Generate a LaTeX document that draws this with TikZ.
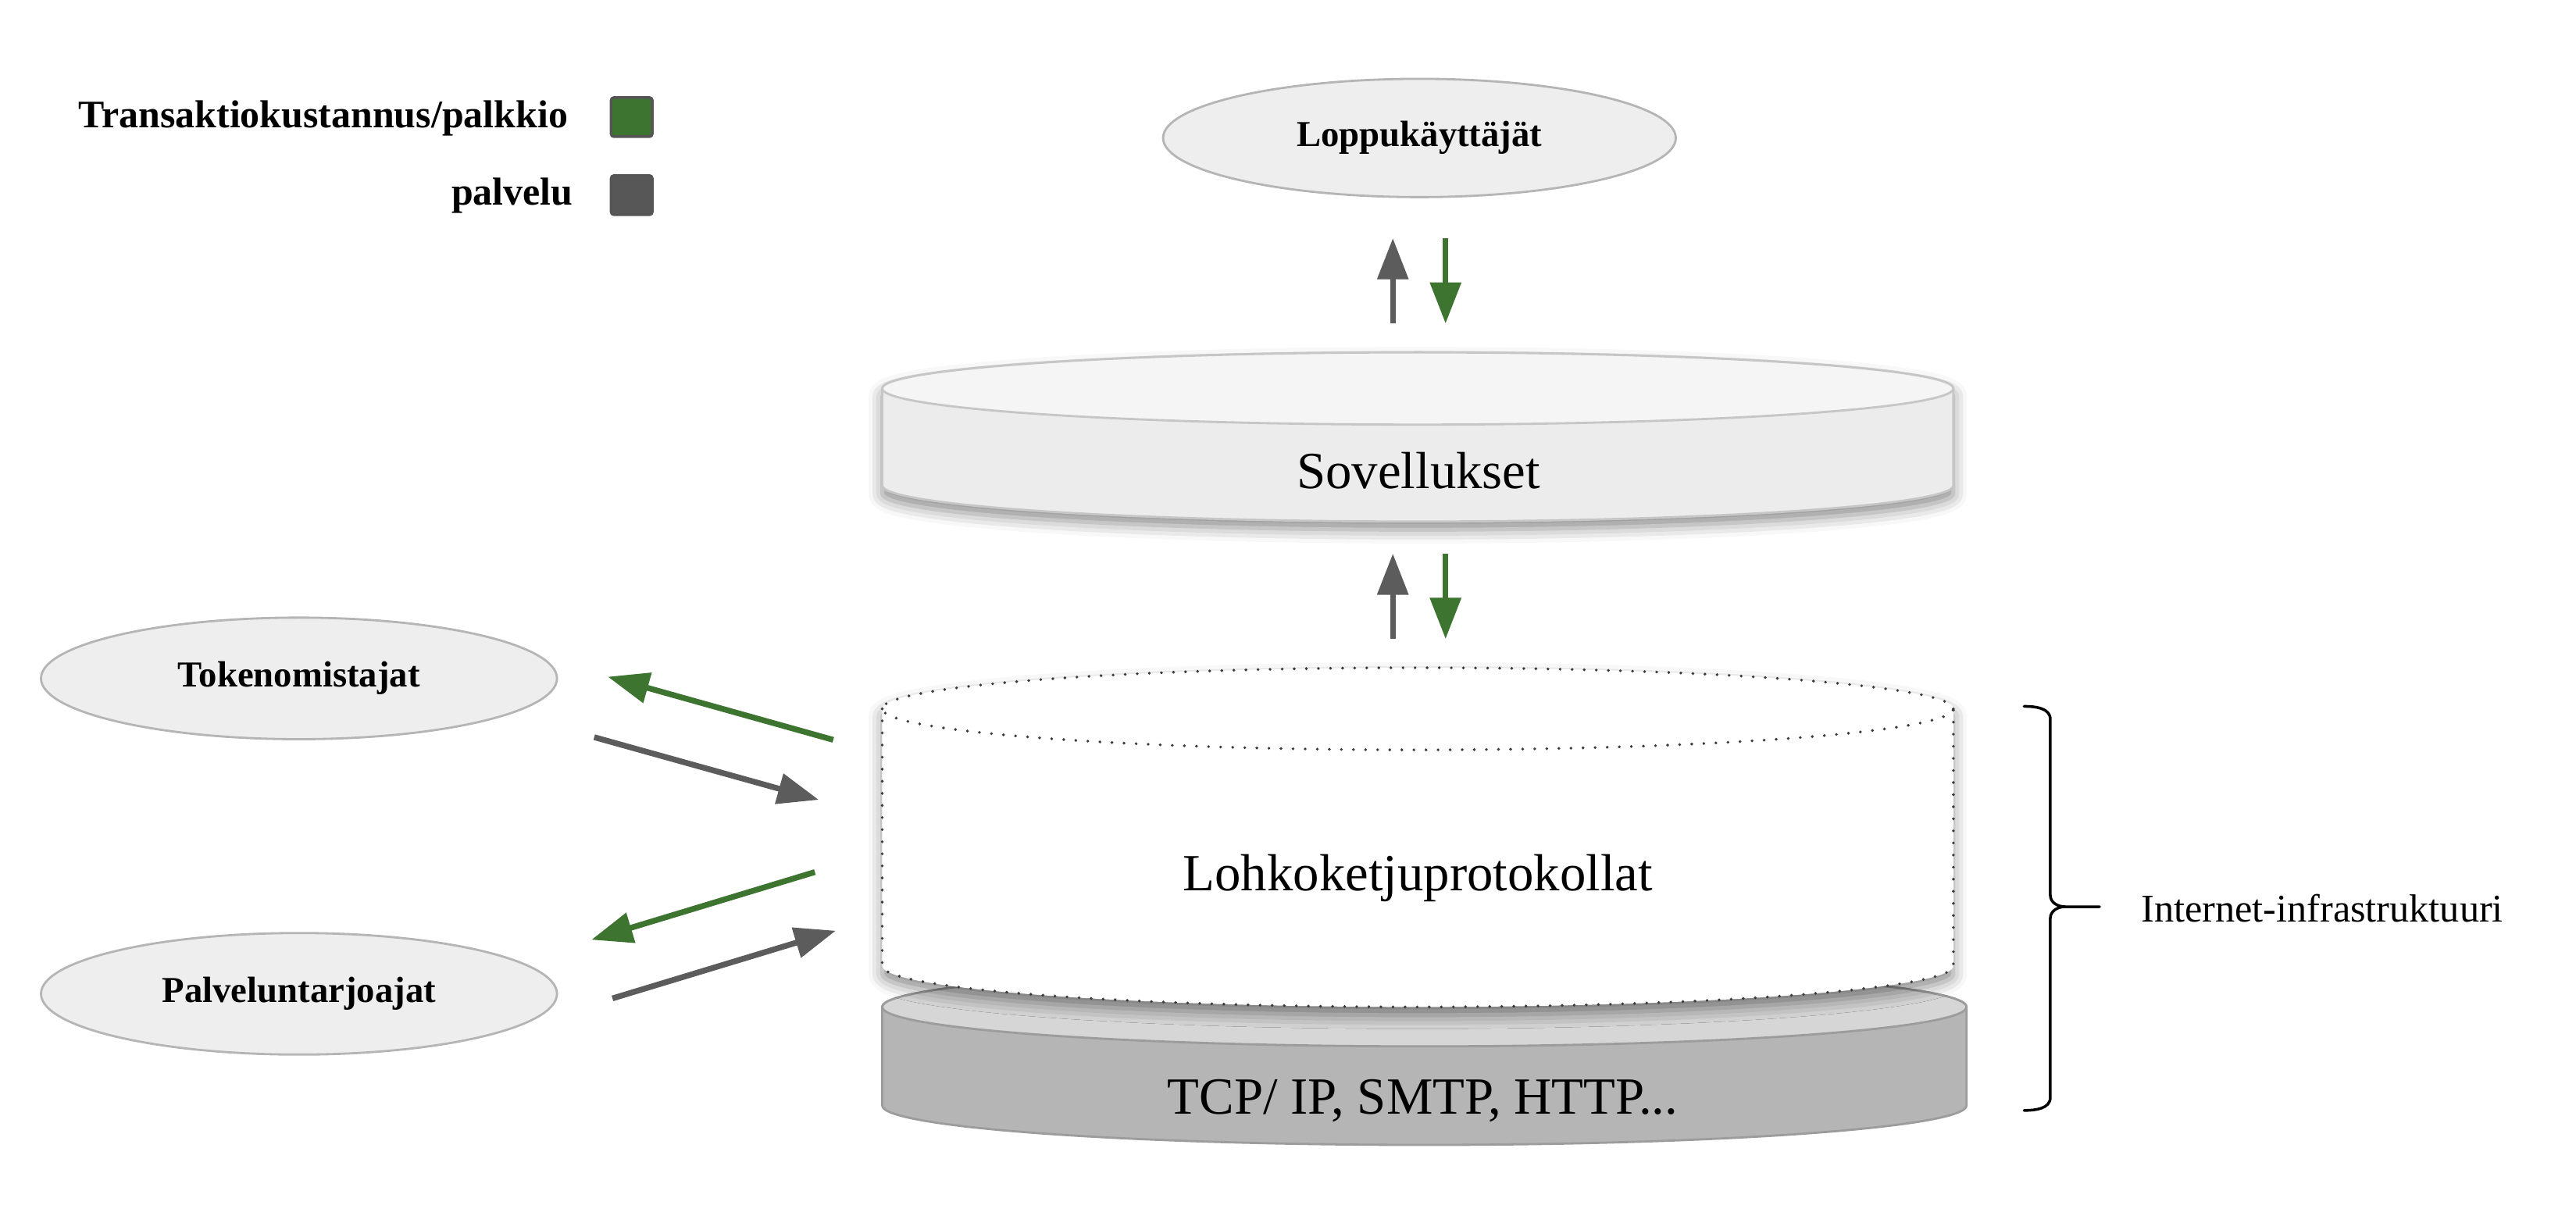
\documentclass[tikz,border=0pt]{standalone}
\usepackage{fontspec}
\setmainfont{Liberation Serif}
\usetikzlibrary{arrows.meta,shapes.geometric,shadows.blur}
\definecolor{grn}{HTML}{3C7430}
\definecolor{gry}{HTML}{5C5C5C}
\definecolor{sqedge}{HTML}{555555}
\definecolor{ellfill}{HTML}{EEEEEE}
\definecolor{elledge}{HTML}{B5B5B5}
\definecolor{apptop}{HTML}{F5F5F5}
\definecolor{appside}{HTML}{ECECEC}
\definecolor{appedge}{HTML}{C6C6C6}
\definecolor{tcptop}{HTML}{D6D6D6}
\definecolor{tcpside}{HTML}{B5B5B5}
\definecolor{tcpedge}{HTML}{9C9C9C}
\definecolor{dotedge}{HTML}{3A3A3A}
\tikzset{
  legtext/.style={anchor=base east, inner sep=0pt, font=\fontsize{14.2}{17}\selectfont\bfseries},
  legsq/.style={rectangle, minimum width=0.526cm, minimum height=0.5cm, inner sep=0pt, draw=sqedge, line width=1pt, rounded corners=1pt},
  actor/.style={ellipse, fill=ellfill, draw=elledge, line width=0.8pt, inner sep=0pt, font=\fontsize{13.3}{16}\selectfont\bfseries},
  layertext/.style={anchor=base, inner sep=0pt, font=\fontsize{19}{23}\selectfont},
  garrow/.style={draw=grn, line width=2.1pt, -{Triangle[length=15pt,width=11pt]}},
  sarrow/.style={draw=gry, line width=2.1pt, -{Triangle[length=15pt,width=11pt]}},
  dotline/.style={draw=dotedge, line width=1.1pt, line cap=round, dash pattern=on 0pt off 4.4pt},
  softshadow/.style={blur shadow={shadow xshift=0pt, shadow yshift=-3pt, shadow blur radius=5pt, shadow opacity=45}}
}
\begin{document}
\begin{tikzpicture}[x=0.021033cm, y=0.021033cm]
\useasboundingbox (0,0) rectangle (1568,-744.5);

% legend
\node[legtext] (legA) at (346,-77.6) {Transaktiokustannus/palkkio};
\node[legsq, fill=grn] (sqA) at (384.5,-71.3) {};
\node[legtext] (legB) at (349,-125) {palvelu};
\node[legsq, fill=gry!95!black] (sqB) at (384.5,-118.8) {};

% actors
\node[actor, minimum width=6.562cm, minimum height=1.514cm] (loppu) at (864,-84) {Loppukäyttäjät};
\node[actor, minimum width=6.604cm, minimum height=1.556cm] (token) at (182,-413) {Tokenomistajat};
\node[actor, minimum width=6.604cm, minimum height=1.556cm] (palv) at (182,-605) {Palveluntarjoajat};

% Sovellukset cylinder
\path[softshadow, fill=appside, draw=appedge, line width=0.8pt]
  (537,-236.5) -- (537,-295.5) arc[start angle=180, end angle=360, x radius=326, y radius=22]
  -- (1189,-236.5) arc[start angle=0, end angle=180, x radius=326, y radius=22] -- cycle;
\draw[fill=apptop, draw=appedge, line width=0.8pt] (863,-236.5) ellipse[x radius=326, y radius=22];
\node[layertext] (sov) at (863.5,-297.6) {Sovellukset};

% TCP cylinder
\path[fill=tcpside, draw=tcpedge, line width=0.8pt]
  (537,-613) -- (537,-673) arc[start angle=180, end angle=360, x radius=330, y radius=24]
  -- (1197,-613) arc[start angle=0, end angle=180, x radius=330, y radius=24] -- cycle;
\draw[fill=tcptop, draw=tcpedge, line width=0.8pt] (867,-613) ellipse[x radius=330, y radius=24];
\node[layertext] (tcp) at (866,-678.3) {TCP/ IP, SMTP, HTTP...};

% Lohkoketju cylinder (dotted)
\path[softshadow, fill=white]
  (537,-431.5) -- (537,-588) arc[start angle=180, end angle=360, x radius=326, y radius=25]
  -- (1189,-431.5) arc[start angle=0, end angle=180, x radius=326, y radius=25] -- cycle;
\draw[dotline]
  (537,-431.5) -- (537,-588) arc[start angle=180, end angle=360, x radius=326, y radius=25]
  -- (1189,-431.5);
\draw[dotline] (863,-431.5) ellipse[x radius=326, y radius=25];
\node[layertext] (lohko) at (863,-542) {Lohkoketjuprotokollat};

% vertical arrows
\coordinate (a1s) at (847.8,-197); \coordinate (a1e) at (847.8,-145);
\coordinate (a2s) at (879.9,-145); \coordinate (a2e) at (879.9,-197);
\coordinate (a3s) at (847.8,-389); \coordinate (a3e) at (847.8,-337);
\coordinate (a4s) at (879.9,-337); \coordinate (a4e) at (879.9,-389);
\draw[sarrow] (a1s) -- (a1e);
\draw[garrow] (a2s) -- (a2e);
\draw[sarrow] (a3s) -- (a3e);
\draw[garrow] (a4s) -- (a4e);

% diagonal arrows
\coordinate (g1s) at (507.2,-450.4); \coordinate (g1e) at (370,-412);
\coordinate (s1s) at (361.7,-448.8); \coordinate (s1e) at (498.4,-486.9);
\coordinate (g2s) at (496,-530.9); \coordinate (g2e) at (360,-572.1);
\coordinate (s2s) at (372.8,-607.8); \coordinate (s2e) at (508.7,-566.6);
\draw[garrow] (g1s) -- (g1e);
\draw[sarrow] (s1s) -- (s1e);
\draw[garrow] (g2s) -- (g2e);
\draw[sarrow] (s2s) -- (s2e);

% brace
\coordinate (bt) at (1232,-430);
\coordinate (bb) at (1232,-676);
\coordinate (btip) at (1278,-552);
\draw[line width=1pt, line cap=round]
  (bt) to[out=0, in=90] (1248,-438) -- (1248,-545) to[out=-90, in=180] (1257,-552) -- (btip);
\draw[line width=1pt, line cap=round]
  (1257,-552) to[out=180, in=90] (1248,-559) -- (1248,-668) to[out=-90, in=0] (bb);
\node[anchor=west, inner sep=0pt, font=\fontsize{14.3}{17}\selectfont] (inet) at (1303,-553) {Internet-infrastruktuuri};
\end{tikzpicture}
\end{document}
